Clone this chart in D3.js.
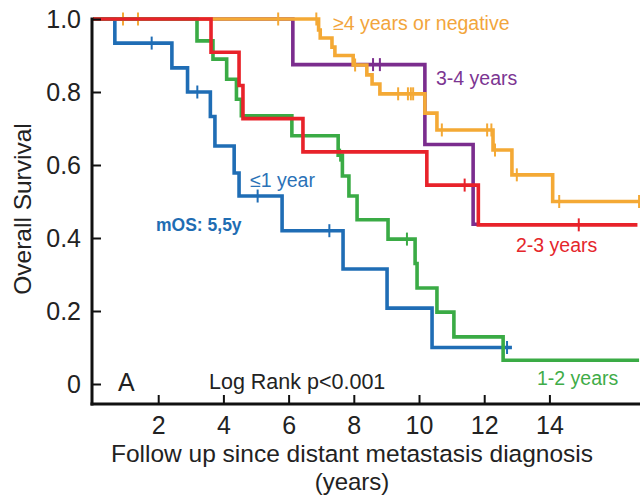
<!DOCTYPE html>
<html>
<head>
<meta charset="utf-8">
<script src="https://cdn.jsdelivr.net/npm/d3@7"></script>
<style>
  html, body { margin: 0; padding: 0; background: #fff; }
  svg { display: block; font-family: "Liberation Sans", Arial, sans-serif; }
</style>
</head>
<body>
<svg id="chart" width="640" height="502"></svg>
<script>
// Kaplan–Meier steps: [time (years), survival after the event]
const le1Steps = [[0.67,0.934],[2.42,0.866],[2.9,0.80],[3.6,0.733],[3.74,0.652],[4.33,0.578],[4.48,0.515],[5.8,0.42],[7.67,0.315],[9.02,0.208],[10.4,0.10]];
const le1Censor = [1.8, 3.2, 5.05, 7.25, 12.7];
const le1End = 12.85;

const y12Steps = [[3.19,0.94],[3.68,0.89],[4.1,0.835],[4.4,0.78],[4.55,0.735],[6.1,0.68],[7.52,0.627],[7.65,0.57],[7.85,0.515],[8.1,0.45],[9.05,0.397],[9.88,0.33],[9.94,0.263],[10.55,0.197],[11.07,0.129],[12.58,0.065]];
const y12Censor = [7.58, 9.63];
const y12End = 16.75;

const y23Steps = [[3.62,0.909],[4.48,0.818],[4.6,0.727],[6.44,0.636],[10.24,0.545],[11.82,0.436]];
const y23Censor = [11.4, 14.9];
const y23End = 16.7;

const y34Steps = [[6.13,0.875],[10.18,0.656],[11.66,0.4375]];
const y34Censor = [8.59, 8.8];
const y34End = 11.8;

const ge4Steps = [[6.92,0.97],[6.97,0.948],[7.33,0.923],[7.42,0.90],[7.98,0.874],[8.4,0.847],[8.56,0.822],[8.8,0.795],[10.18,0.742],[10.55,0.696],[12.27,0.641],[12.85,0.573],[14.1,0.50]];
const ge4Censor = [0.92, 1.38, 5.68, 6.85, 8.04, 9.36, 9.66, 9.75, 9.82, 10.7, 12.09, 12.22, 12.33, 13.0, 14.3, 16.75];
const ge4End = 16.8;

const xTicks = [2, 4, 6, 8, 10, 12, 14];
const yTicks = [0, 0.2, 0.4, 0.6, 0.8, 1.0];

const groups = [
  { name: "3-4 years",            steps: y34Steps, censor: y34Censor, end: y34End, color: "#7b2d8e" },
  { name: "≥4 years or negative", steps: ge4Steps, censor: ge4Censor, end: ge4End, color: "#f4a935" },
  { name: "≤1 year",              steps: le1Steps, censor: le1Censor, end: le1End, color: "#1f6db5" },
  { name: "1-2 years",            steps: y12Steps, censor: y12Censor, end: y12End, color: "#3aab45" },
  { name: "2-3 years",            steps: y23Steps, censor: y23Censor, end: y23End, color: "#e8222a" }
];

const svg = d3.select("#chart");
const x = d3.scaleLinear().domain([0, 16.8]).range([93, 640.7]);
const y = d3.scaleLinear().domain([0, 1]).range([384, 19]);

// survival value at time t for a step list
function survAt(steps, t) {
  let s = 1;
  for (const [tt, v] of steps) { if (tt <= t) s = v; }
  return s;
}

const line = d3.line().x(d => x(d[0])).y(d => y(d[1])).curve(d3.curveStepAfter);

groups.forEach(g => {
  const pts = [[0, 1], ...g.steps];
  const last = pts[pts.length - 1][1];
  pts.push([g.end, last]);
  svg.append("path")
    .attr("d", line(pts))
    .attr("fill", "none")
    .attr("stroke", g.color)
    .attr("stroke-width", 3.6)
    .attr("stroke-linejoin", "miter")
    .attr("stroke-linecap", "butt");
  svg.append("g").selectAll("line")
    .data(g.censor)
    .join("line")
    .attr("x1", d => x(d)).attr("x2", d => x(d))
    .attr("y1", d => y(survAt(g.steps, d)) - 6.5)
    .attr("y2", d => y(survAt(g.steps, d)) + 6.5)
    .attr("stroke", g.color)
    .attr("stroke-width", 2);
});

// axes
const xAxis = d3.axisBottom(x).tickValues(xTicks).tickSize(-9).tickPadding(12).tickSizeOuter(0);
const gx = svg.append("g").attr("transform", "translate(0,404)").call(xAxis);
gx.select(".domain").remove();
gx.selectAll(".tick line").attr("stroke", "#111").attr("stroke-width", 2);
gx.selectAll(".tick text").attr("font-size", 25).attr("fill", "#222")
  .attr("font-family", "'Liberation Sans', Arial, sans-serif");

const yAxis = d3.axisLeft(y).tickValues(yTicks)
  .tickFormat(d => d === 0 ? "0" : d3.format(".1f")(d))
  .tickSize(-9).tickPadding(11).tickSizeOuter(0);
const gy = svg.append("g").attr("transform", "translate(92,0)").call(yAxis);
gy.select(".domain").remove();
gy.selectAll(".tick line").attr("stroke", "#111").attr("stroke-width", 2);
gy.selectAll(".tick text").attr("font-size", 25).attr("fill", "#222")
  .attr("font-family", "'Liberation Sans', Arial, sans-serif");

svg.append("line").attr("x1", 92).attr("x2", 92).attr("y1", 17.5).attr("y2", 405.5)
  .attr("stroke", "#111").attr("stroke-width", 3);
svg.append("line").attr("x1", 90.5).attr("x2", 640).attr("y1", 404).attr("y2", 404)
  .attr("stroke", "#111").attr("stroke-width", 3);

// axis titles
svg.append("text").attr("x", 352).attr("y", 462).attr("text-anchor", "middle")
  .attr("font-size", 24.5).attr("fill", "#222")
  .text("Follow up since distant metastasis diagnosis");
svg.append("text").attr("x", 352).attr("y", 490).attr("text-anchor", "middle")
  .attr("font-size", 24).attr("fill", "#222").text("(years)");
svg.append("text").attr("transform", "translate(31,209) rotate(-90)").attr("text-anchor", "middle")
  .attr("font-size", 24.5).attr("fill", "#222").text("Overall Survival");

// group labels
const labels = [
  { text: "≥4 years or negative", x: 333, y: 30, color: "#f2a53c" },
  { text: "3-4 years",            x: 436, y: 85, color: "#7c3592" },
  { text: "2-3 years",            x: 516, y: 252, color: "#e5262b" },
  { text: "1-2 years",            x: 537, y: 385, color: "#3fac48" },
  { text: "≤1 year",              x: 250, y: 187, color: "#2a72b7" }
];
svg.append("g").selectAll("text").data(labels).join("text")
  .attr("x", d => d.x).attr("y", d => d.y)
  .attr("font-size", 19.5).attr("fill", d => d.color).text(d => d.text);

svg.append("text").attr("x", 156).attr("y", 231).attr("font-size", 17.5)
  .attr("font-weight", "bold").attr("fill", "#1f6db3").text("mOS: 5,5y");
svg.append("text").attr("x", 118).attr("y", 391).attr("font-size", 25)
  .attr("fill", "#222").text("A");
svg.append("text").attr("x", 209).attr("y", 389).attr("font-size", 21.5)
  .attr("fill", "#222").text("Log Rank p<0.001");
</script>
</body>
</html>
